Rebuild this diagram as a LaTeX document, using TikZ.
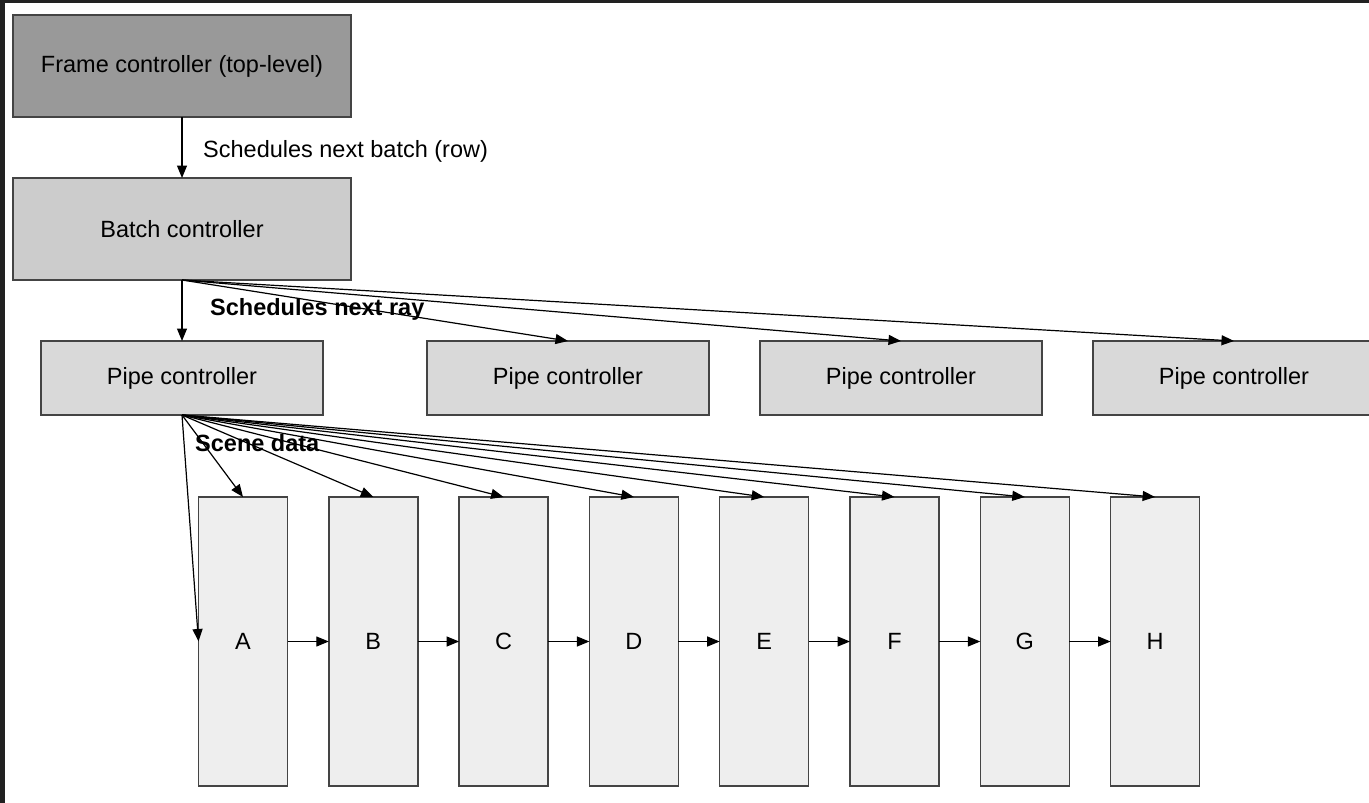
\documentclass[tikz,border=0pt]{standalone}
\usepackage{fontspec}
\setmainfont{Liberation Sans}
\usetikzlibrary{arrows.meta}
\definecolor{edgegray}{HTML}{444444}
\definecolor{framefill}{HTML}{999999}
\definecolor{batchfill}{HTML}{CCCCCC}
\definecolor{pipefill}{HTML}{D9D9D9}
\definecolor{stagefill}{HTML}{EEEEEE}
\definecolor{rimdark}{HTML}{212121}
\begin{document}
\begin{tikzpicture}[x=1pt,y=-1pt,
  font=\fontsize{23.5}{28}\selectfont,
  box/.style={draw=edgegray,line width=1.4pt,inner sep=0pt,outer sep=0pt},
  ctrl/.style={box,minimum width=338pt,minimum height=102pt},
  pipebox/.style={box,fill=pipefill,minimum width=282pt,minimum height=74pt},
  stagebox/.style={box,fill=stagefill,minimum width=89pt,minimum height=289pt},
  link/.style={line width=1.2pt,-{Triangle[length=12.5pt,width=10pt]}},
  tag/.style={inner sep=0pt,anchor=base west},
  boldtag/.style={tag,font=\fontsize{23.5}{28}\selectfont\bfseries}]
\clip (0,0) rectangle (1369,803);
\fill[white] (0,0) rectangle (1369,803);
% dark rim along the top and left edges
\fill[rimdark] (0,0) rectangle (1369,3);
\fill[rimdark] (0,0) rectangle (5,803);

% controllers
\node[ctrl,fill=framefill] (frame) at (182,66) {Frame controller (top-level)};
\node[ctrl,fill=batchfill] (batch) at (182,229) {Batch controller};
\node[pipebox] (p1) at (182,378) {Pipe controller};
\node[pipebox] (p2) at (568,378) {Pipe controller};
\node[pipebox] (p3) at (901,378) {Pipe controller};
\node[pipebox] (p4) at (1234,378) {Pipe controller};

% pipeline stages
\foreach \s [count=\i from 0] in {A,B,C,D,E,F,G,H}
  \node[stagebox] (\s) at (243+130.3*\i,641.5) {\s};

% scheduling links
\draw[link] (frame.south) -- (batch.north);
\foreach \p in {p1,p2,p3,p4}
  \draw[link] (batch.south) -- (\p.north);

% scene data fan-out
\draw[link] (p1.south) -- (A.west);
\foreach \s in {A,B,C,D,E,F,G,H}
  \draw[link] (p1.south) -- (\s.north);

% stage chain
\foreach \a/\b in {A/B,B/C,C/D,D/E,E/F,F/G,G/H}
  \draw[link] (\a.east) -- (\b.west);

% labels
\node[tag] (lbatch) at (203,157) {Schedules next batch (row)};
\node[boldtag] (lray) at (210,315) {Schedules next ray};
\node[boldtag] (lscene) at (195,451) {Scene data};
\end{tikzpicture}
\end{document}
